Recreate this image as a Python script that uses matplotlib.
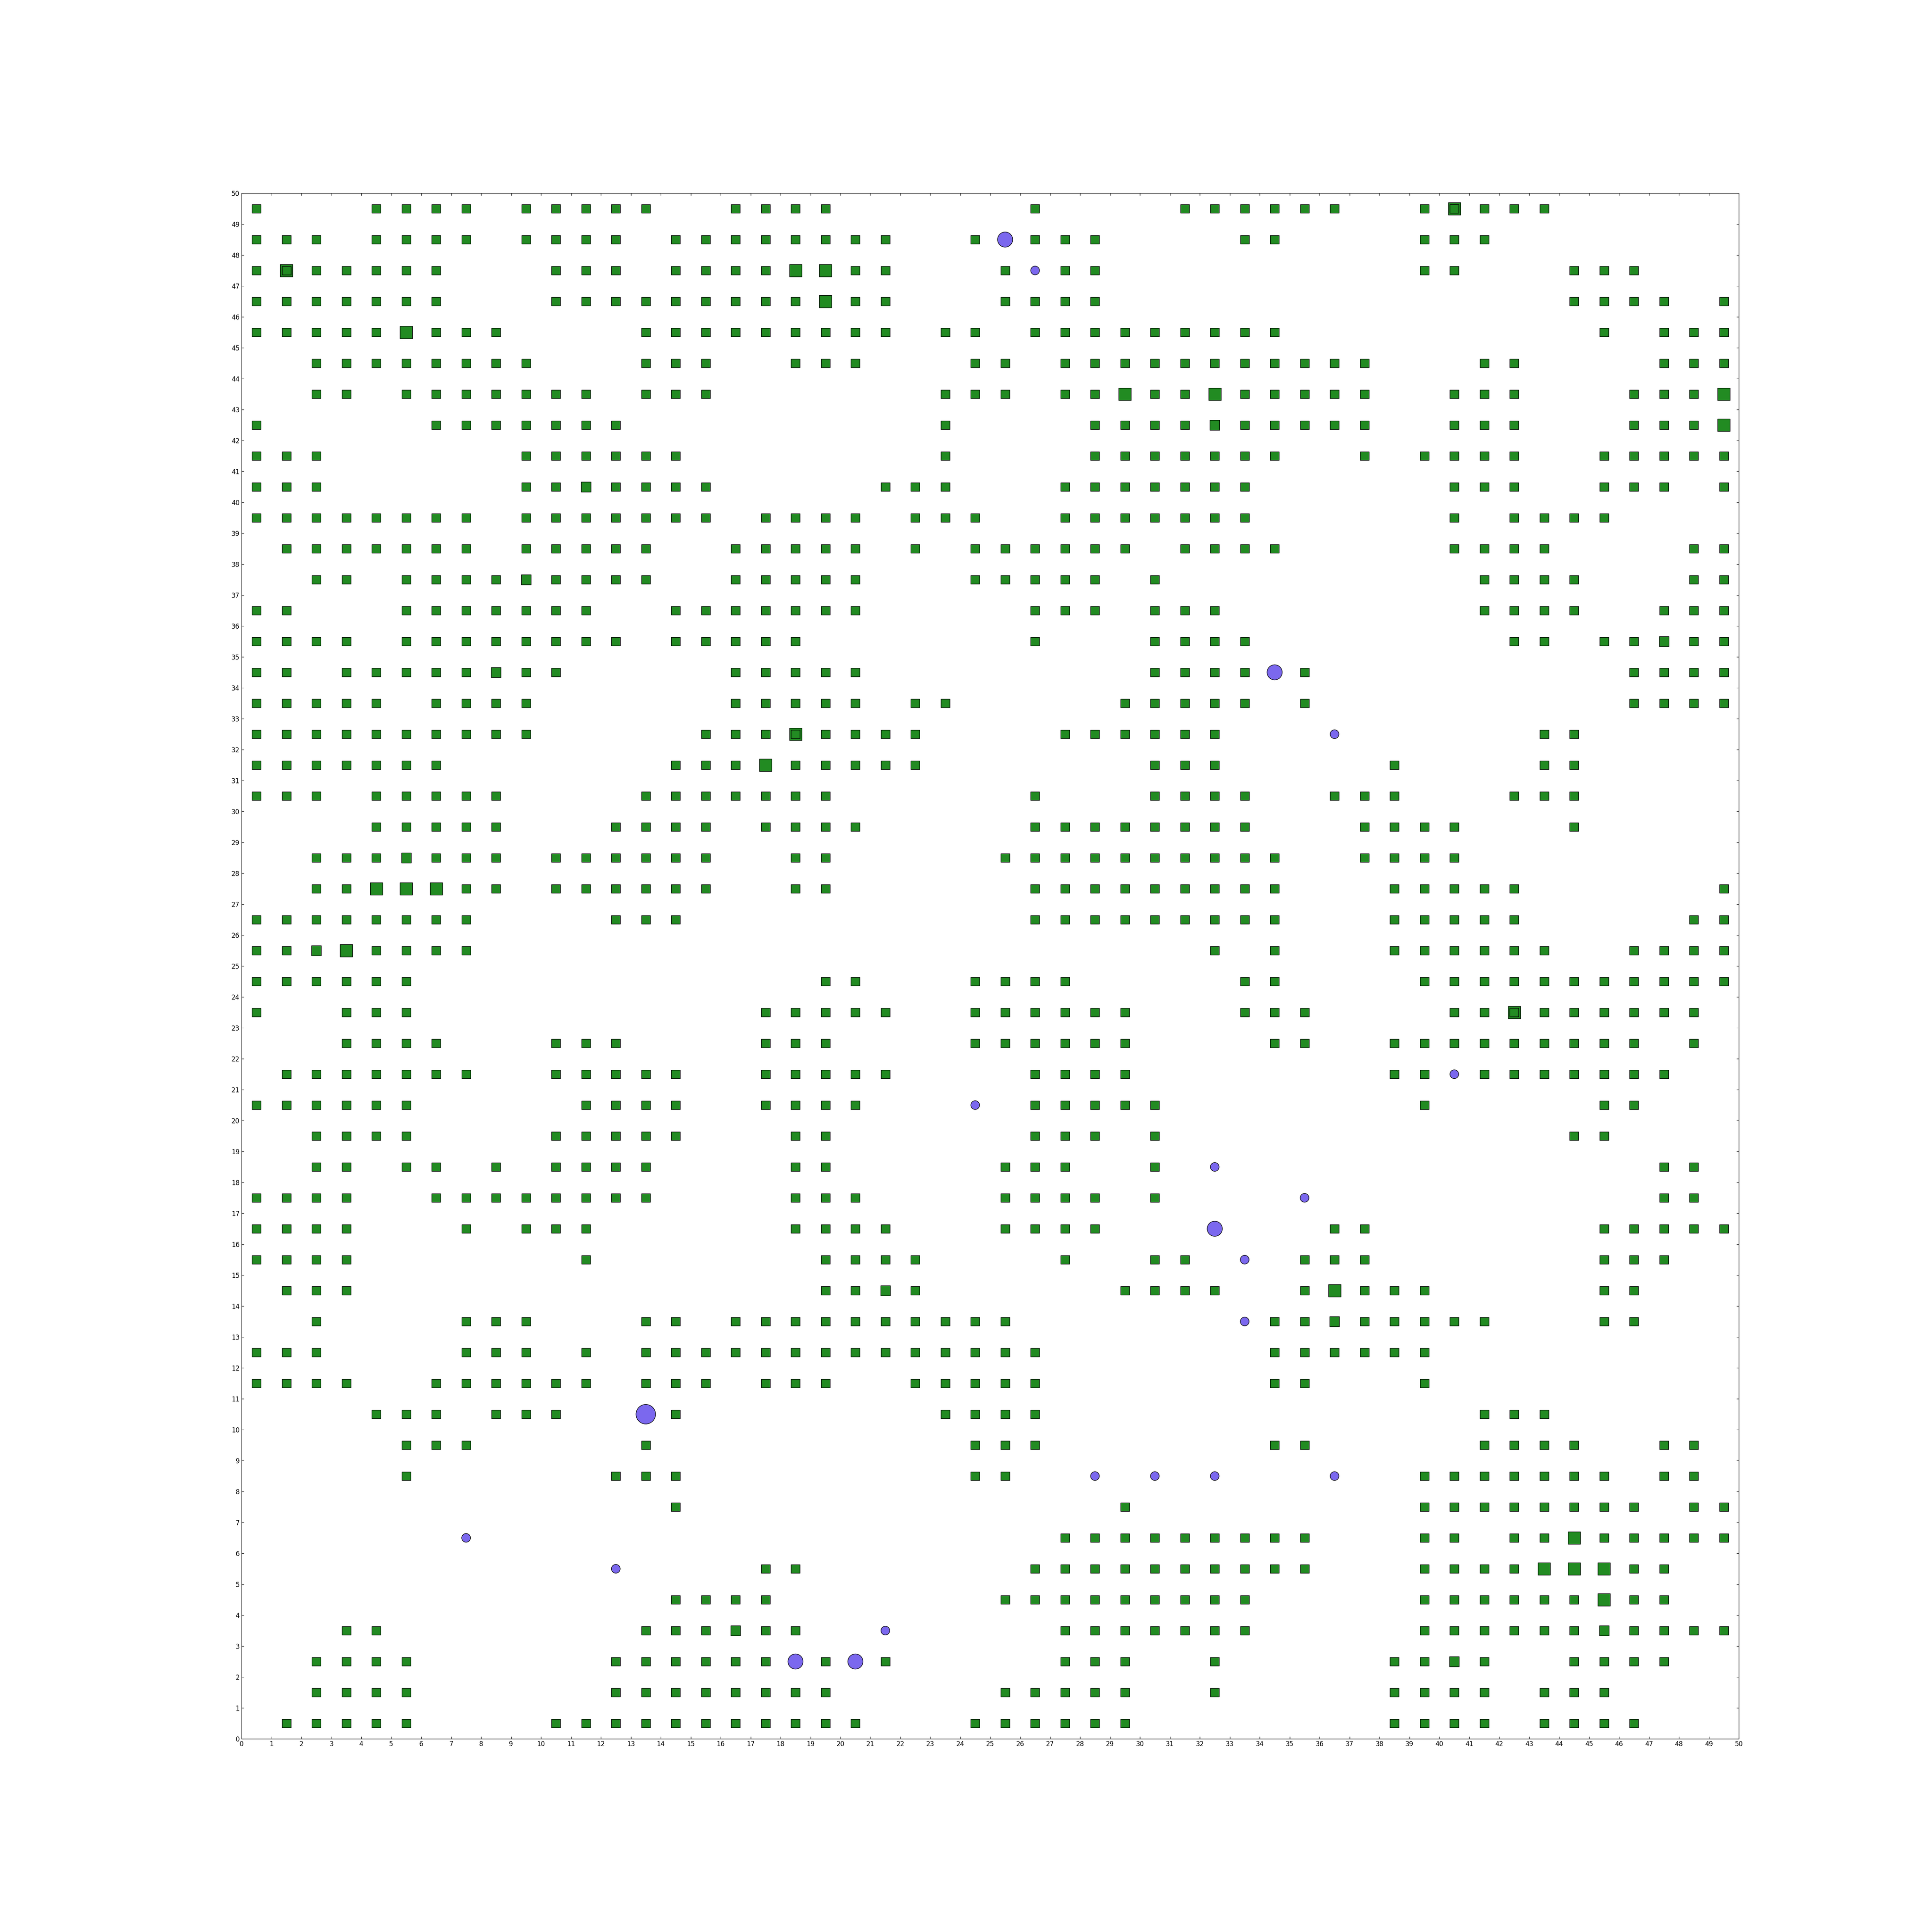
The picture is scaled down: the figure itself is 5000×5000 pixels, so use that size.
import matplotlib
matplotlib.use("Agg")
import matplotlib.pyplot as plt

# Occupancy grid, top row (y=49) first, bottom row (y=0) last.
# Each row is five 10-cell chunks (x 0-9, 10-19, 20-29, 30-39, 40-49).
#   '#' square, '+' slightly bigger square, 'B' big square,
#   'D' big square with a normal square drawn on top,
#   'o' small circle, 'O' circle, '@' big circle, '.' empty
grid_rows = [
    "#...####.# ####..#### ......#... .######..# D###......",  # 49
    "###.####.# ###.###### ##..#O###. ...##....# ##........",  # 48
    "#D#####... ###.####BB ##...#o##. .........# #...###...",  # 47
    "#######... #########B ##...####. .......... ....####.#",  # 46
    "#####B###. ...####### ##.##.#### #####..... .....#.###",  # 45
    "..######## ...###..## #...##.### ########.. .##....###",  # 44
    "..##.##### ##.###.... ...###.##B ##B#####.. ###...###B",  # 43
    "#.....#### ###....... ...#....## ##+#####.. ###...###B",  # 42
    "###......# #####..... ...#....## #####..#.# ###..#####",  # 41
    "###......# #+####.... .###...### ####...... ###..###.#",  # 40
    "########.# ######.### #.###..### ####...... #.####....",  # 39
    ".#######.# ####..#### #.#.###### .####..... ####....##",  # 38
    "..##.####+ ####..#### #...#####. #......... .####...##",  # 37
    "##...##### ##..###### #.....###. ###....... .####..###",  # 36
    "####.##### ###.#####. ......#... ####...... ..##.##+##",  # 35
    "##.#####+# #.....#### #......... ####O#.... ......####",  # 34
    "#####.#### ......#### #.##.....# ####.#.... ......####",  # 33
    "########## .....###D# ###....### ###...o... ...##.....",  # 32
    "#######... ....###B## ###....... ###.....#. ...##.....",  # 31
    "###.#####. ...####### ......#... ####..###. ..###.....",  # 30
    "....#####. ..####.### #.....#### ####...### #...#.....",  # 29
    "..###+###. ######..## .....##### #####..### #.........",  # 28
    "..##BBB##. ######..## ......#### #####...## ###......#",  # 27
    "########.. ..###..... ......#### #####...## ###.....##",  # 26
    "##+B####.. .......... .......... ..#.#...## ####..####",  # 25
    "######.... .........# #...####.. ...##....# ##########",  # 24
    "#..###.... .......### ##..###### ...###.... ##D######.",  # 23
    "...####... ###....### ....###### ....##..## #######.#.",  # 22
    ".#######.. #####..### ##....#### ........## o#######..",  # 21
    "######.... .####..### #...o.#### #........# .....##...",  # 20
    "..####.... #####...## ......###. #......... ....##....",  # 19
    "..##.##.#. ####....## .....###.. #.o....... .......##.",  # 18
    "####..#### ####....## #....####. #....o.... .......##.",  # 17
    "####...#.# ##......## ##...####. ..O...##.. .....#####",  # 16
    "####...... .#.......# ###....#.. ##.o.###.. .....###..",  # 15
    ".###...... .........# #+#......# ###..#B### .....##...",  # 14
    "..#....### ...##.#### ######.... ...o##+### ##...##...",  # 13
    "###....### .#.####### #######... ....###### ..........",  # 12
    "####..#### ##.###.### ..#####... ....##...# ..........",  # 11
    "....###.## #..@#..... ...####... .......... .###......",  # 10
    ".....###.. ...#...... ....###... ....##.... .####..##.",  # 9
    ".....#.... ..###..... ....##..o. o.o...o..# ######.##.",  # 8
    ".......... ....#..... .........# .........# #######.##",  # 7
    ".......o.. .......... .......### ######...# #.##B#####",  # 6
    ".......... ..o....##. ......#### ######...# ###BBB##..",  # 5
    ".......... ....####.. .....##### ####.....# #####B##..",  # 4
    "...##..... ...###+##. .o.....### ####.....# #####+####",  # 3
    "..####.... ..######O# O#.....### ..#.....## +#..####..",  # 2
    "..####.... ..######## .....##### ..#.....## ##.###....",  # 1
    ".#####.... ########## #...###### ........## ##.####...",  # 0
]

# relative marker areas
square_sizes = {"#": 1.0, "+": 1.25, "B": 2.0}
circle_sizes = {"o": 1.0, "O": 3.0, "@": 5.0}

BASE = 265
GREEN = "#228B22"
PURPLE = "#7B68EE"

sq_x, sq_y, sq_v = [], [], []
ci_x, ci_y, ci_v = [], [], []
n_rows = len(grid_rows)
for r, row in enumerate(grid_rows):
    cells = row.replace(" ", "")
    assert len(cells) == 50, (r, len(cells))
    y = n_rows - 1 - r
    for x, ch in enumerate(cells):
        if ch in square_sizes:
            sq_x.append(x + 0.5); sq_y.append(y + 0.5); sq_v.append(square_sizes[ch])
        elif ch == "D":
            sq_x += [x + 0.5, x + 0.5]; sq_y += [y + 0.5, y + 0.5]; sq_v += [2.0, 1.0]
        elif ch in circle_sizes:
            ci_x.append(x + 0.5); ci_y.append(y + 0.5); ci_v.append(circle_sizes[ch])

# biggest first so the normal squares sit on top of the doubled cells
order = sorted(range(len(sq_v)), key=lambda i: -sq_v[i])
sq_x = [sq_x[i] for i in order]
sq_y = [sq_y[i] for i in order]
sq_v = [sq_v[i] for i in order]

plt.rcParams["font.size"] = 12
plt.rcParams["xtick.direction"] = "in"
plt.rcParams["ytick.direction"] = "in"
plt.rcParams["xtick.top"] = True
plt.rcParams["ytick.right"] = True

fig, ax = plt.subplots(figsize=(50, 50), dpi=100)
fig.subplots_adjust(left=0.125, right=0.9, bottom=0.1, top=0.9)

ax.scatter(sq_x, sq_y, s=[BASE * v for v in sq_v], marker="s",
           c=GREEN, edgecolors="black", linewidths=1.0, zorder=2)
ax.scatter(ci_x, ci_y, s=[BASE * v for v in ci_v], marker="o",
           c=PURPLE, edgecolors="black", linewidths=1.0, zorder=3)

ax.set_xlim(0, 50)
ax.set_ylim(0, 50)
ax.set_xticks(range(0, 51))
ax.set_yticks(range(0, 51))
ax.tick_params(labelsize=12, length=4)

fig.savefig("out.png", dpi=100, facecolor="white")
plt.close(fig)
